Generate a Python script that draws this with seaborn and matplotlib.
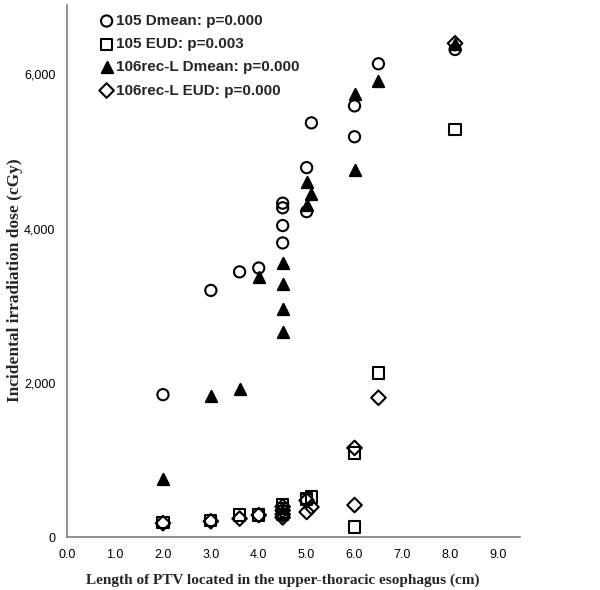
import numpy as np
import pandas as pd
import matplotlib
matplotlib.use('Agg')
import matplotlib.pyplot as plt
import matplotlib.ticker as mticker
import seaborn as sns

# PTV length (cm) for each patient
ptv_length = [2.0, 3.0, 3.6, 4.0, 4.5, 4.5, 4.5, 4.5, 5.0, 5.0, 5.1, 6.0, 6.0, 6.5, 8.1]

# incidental dose (cGy) per station / measure
dmean_105 = [1850, 3200, 3440, 3490, 4330, 4270, 4040, 3815, 4790, 4220, 5370, 5590, 5190, 6135, 6320]
eud_105 = [190, 215, 290, 290, 420, 380, 330, 300, 510, 490, 525, 1095, 135, 2130, 5280]
dmean_106 = [760, 1830, 1925, 3375, 3555, 3285, 2960, 2660, 4605, 4300, 4455, 5745, 4760, 5915, 6390]
eud_106 = [185, 210, 245, 290, 400, 350, 300, 260, 480, 330, 395, 1160, 420, 1810, 6400]

labels = ['105 Dmean: p=0.000', '105 EUD: p=0.003',
          '106rec-L Dmean: p=0.000', '106rec-L EUD: p=0.000']

sns.set_style('white')

fig = plt.figure(figsize=(6, 5.9), dpi=100)
ax = fig.add_axes([0.112, 0.089, 0.755, 0.903])

styles = [
    (dmean_105, 'o', 'none', 65),
    (eud_105, 's', 'none', 65),
    (dmean_106, '^', 'black', 65),
    (eud_106, 'D', 'none', 55),
]
for (vals, mk, fc, sz), lab in zip(styles, labels):
    df = pd.DataFrame({'x': ptv_length, 'y': vals})
    sns.scatterplot(data=df, x='x', y='y', ax=ax, marker=mk, s=sz,
                    facecolor=fc, edgecolor='black', linewidth=1.5, label=lab)

ax.set_xlim(0, 9.46)
ax.set_ylim(0, 6900)
ax.set_xticks(np.arange(0, 10, 1.0))
ax.xaxis.set_major_formatter(mticker.FormatStrFormatter('%.1f'))
ax.set_yticks([0, 2000, 4000, 6000])
ax.yaxis.set_major_formatter(mticker.StrMethodFormatter('{x:,.0f}'))

for side in ['top', 'right']:
    ax.spines[side].set_visible(False)
for side in ['left', 'bottom']:
    ax.spines[side].set_color('#808080')
    ax.spines[side].set_linewidth(1.2)
ax.tick_params(axis='both', direction='out', length=5, width=1.2, color='#808080',
               labelsize=9, labelcolor='black')
for t in ax.get_xticklabels() + ax.get_yticklabels():
    t.set_family('Liberation Sans')

ax.set_xlabel('Length of PTV located in the upper-thoracic esophagus (cm)',
              family='Liberation Serif', fontweight='bold', fontsize=11, va='center')
ax.set_ylabel('Incidental irradiation dose (cGy)',
              family='Liberation Serif', fontweight='bold', fontsize=12.5, va='center')
ax.xaxis.set_label_coords(0.475, -0.08)
ax.yaxis.set_label_coords(-0.115, 0.483)

ax.legend(loc='upper left', bbox_to_anchor=(0.055, 0.994), frameon=False,
          prop={'family': 'Liberation Sans', 'weight': 'bold', 'size': 11},
          handletextpad=0.05, labelspacing=0.6, borderaxespad=0, handlelength=1.1)

fig.savefig('out.png', dpi=100)
